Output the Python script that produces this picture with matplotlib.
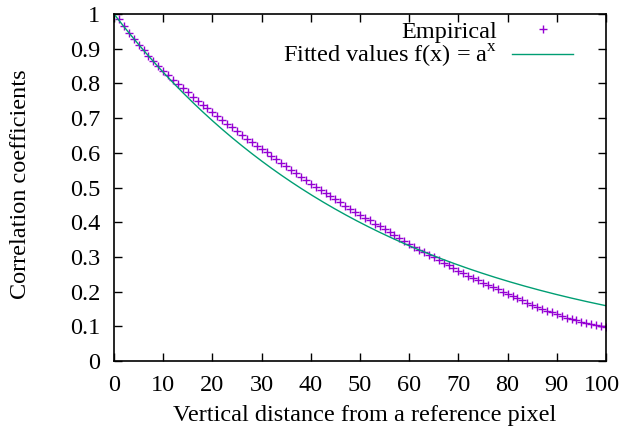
import matplotlib
matplotlib.use("Agg")
import matplotlib.pyplot as plt
import matplotlib.transforms as mtransforms
import numpy as np

# Data
distance = list(range(1, 101))
empirical = [
    0.985, 0.965, 0.946, 0.928, 0.911, 0.895, 0.879, 0.864, 0.850, 0.836,
    0.823, 0.810, 0.798, 0.786, 0.774, 0.762, 0.750, 0.739, 0.728, 0.717,
    0.706, 0.695, 0.684, 0.673, 0.662, 0.652, 0.641, 0.631, 0.621, 0.611,
    0.601, 0.591, 0.581, 0.571, 0.561, 0.551, 0.541, 0.531, 0.521, 0.511,
    0.502, 0.493, 0.484, 0.475, 0.466, 0.457, 0.448, 0.439, 0.430, 0.422,
    0.413, 0.405, 0.396, 0.388, 0.379, 0.371, 0.362, 0.354, 0.345, 0.337,
    0.329, 0.321, 0.313, 0.306, 0.299, 0.291, 0.283, 0.276, 0.268, 0.260,
    0.253, 0.246, 0.240, 0.233, 0.226, 0.220, 0.213, 0.207, 0.200, 0.194,
    0.187, 0.181, 0.175, 0.168, 0.162, 0.156, 0.150, 0.145, 0.140, 0.135,
    0.130, 0.125, 0.121, 0.117, 0.113, 0.109, 0.106, 0.103, 0.100, 0.098,
]
fit_a = 0.9818  # fitted parameter of f(x) = a^x
xticks = [0, 10, 20, 30, 40, 50, 60, 70, 80, 90, 100]
yticks = [0, 0.1, 0.2, 0.3, 0.4, 0.5, 0.6, 0.7, 0.8, 0.9, 1]
ytick_labels = ["0", "0.1", "0.2", "0.3", "0.4", "0.5", "0.6", "0.7", "0.8", "0.9", "1"]

plt.rcParams['font.family'] = ['Liberation Serif', 'DejaVu Serif']
plt.rcParams['mathtext.fontset'] = 'custom'
plt.rcParams['mathtext.rm'] = 'Liberation Serif'
FS = 17.5

fig = plt.figure(figsize=(6.21, 4.34), dpi=100)
ax = fig.add_axes([114/621, 1 - 361/434, 492/621, 347/434])

ax.plot(distance, empirical, linestyle='none', marker='+', markersize=5.5,
        markeredgewidth=1.0, color='#9400D3', label='Empirical')
xf = np.linspace(0, 100, 400)
ax.plot(xf, fit_a ** xf, color='#009E73', linewidth=1.0,
        label=r'Fitted values f(x) = a$^{\rm x}$')

ax.set_xlim(0, 100)
ax.set_ylim(0, 1)
ax.set_xticks(xticks)
ax.set_yticks(yticks)
ax.set_yticklabels(ytick_labels)
ax.tick_params(direction='in', length=6, width=1, top=True, right=True,
               labelsize=FS, pad=10)
for s in ax.spines.values():
    s.set_linewidth(1.2)

# keep the last x tick label inside the canvas, as in the reference
last = ax.get_xticklabels()[-1]
last.set_transform(last.get_transform() +
                   mtransforms.ScaledTranslation(-4 / 100, 0, fig.dpi_scale_trans))

ax.set_xlabel('Vertical distance from a reference pixel', fontsize=FS)
ax.set_ylabel('Correlation coefficients', fontsize=FS)
ax.xaxis.set_label_coords(0.51, (361 - 405) / 347)
ax.yaxis.set_label_coords((31 - 114) / 492, 0.51)

leg = ax.legend(loc='upper right', bbox_to_anchor=(0.933, 0.98), frameon=False,
                markerfirst=False, borderpad=0, borderaxespad=0,
                handlelength=2.5, handletextpad=0.62, labelspacing=0.0,
                fontsize=FS)

fig.savefig('out.png', dpi=100)
